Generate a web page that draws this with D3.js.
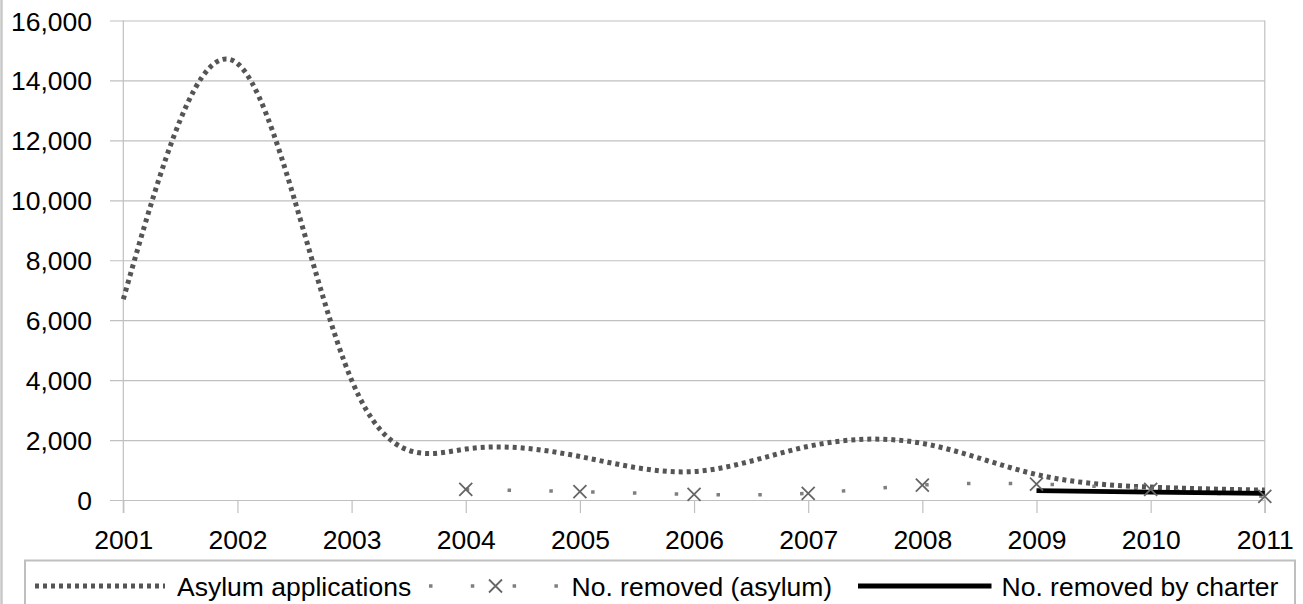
<!DOCTYPE html>
<html>
<head>
<meta charset="utf-8">
<script src="https://cdn.jsdelivr.net/npm/d3@7"></script>
<style>
  html, body { margin: 0; padding: 0; background: #fff; }
  svg { display: block; }
  text { font-family: "Liberation Sans", Arial, Helvetica, sans-serif; fill: #000; }
</style>
</head>
<body>
<svg id="chart" width="1303" height="604"></svg>
<script>
// ---- data ----
const years = [2001, 2002, 2003, 2004, 2005, 2006, 2007, 2008, 2009, 2010, 2011];
const asylumApplications = [6700, 14567, 4000, 1700, 1450, 950, 1790, 1890, 850, 430, 330];
const removedAsylum = [null, null, null, 356, 278, 189, 222, 500, 533, 356, 120];
const removedCharter = [null, null, null, null, null, null, null, null, 310, 265, 220];
const yTickValues = [0, 2000, 4000, 6000, 8000, 10000, 12000, 14000, 16000];
const seriesNames = ["Asylum applications", "No. removed (asylum)", "No. removed by charter"];

// ---- layout ----
const W = 1303, H = 604;
const plot = { left: 123.3, right: 1264.8, top: 20.5, bottom: 500 };
const svg = d3.select("#chart");

const x = d3.scaleLinear().domain([2001, 2011]).range([plot.left, plot.right]);
const y = d3.scaleLinear().domain([0, 16000]).range([plot.bottom, plot.top]);

const FONT = 26.5;
const GRID = "#c0c0c0";

// chart outer left border
svg.append("line").attr("x1", 1.5).attr("x2", 1.5).attr("y1", 0).attr("y2", H)
  .attr("stroke", "#c8c8c8").attr("stroke-width", 2.5);

// ---- y axis with gridlines ----
const yAxis = d3.axisLeft(y)
  .tickValues(yTickValues)
  .tickFormat(d3.format(","))
  .tickSize(plot.right - 110)
  .tickPadding(18);
const gy = svg.append("g").attr("transform", `translate(${plot.right},0)`).call(yAxis);
gy.select(".domain").remove();
gy.selectAll(".tick line").attr("stroke", GRID).attr("stroke-width", 1.2);
gy.selectAll(".tick text").attr("font-size", FONT).attr("font-family", null).attr("fill", "#000").attr("dy", "0.36em");

// ---- x axis ----
const xAxis = d3.axisBottom(x)
  .tickValues(years)
  .tickFormat(d3.format("d"))
  .tickSize(13)
  .tickPadding(17.5);
const gx = svg.append("g").attr("transform", `translate(0,${plot.bottom})`).call(xAxis);
gx.select(".domain").remove();
gx.selectAll(".tick line").attr("stroke", GRID).attr("stroke-width", 1.2);
gx.selectAll(".tick text").attr("font-size", FONT).attr("font-family", null).attr("fill", "#000");

// vertical axis line and right plot edge
[years[0], years[years.length - 1]].forEach(v => {
  svg.append("line")
    .attr("x1", x(v)).attr("x2", x(v))
    .attr("y1", y(16000)).attr("y2", plot.bottom + 13)
    .attr("stroke", GRID).attr("stroke-width", 1.2);
});

// ---- series (cubic spline smoothing) ----
const line = d3.line()
  .defined(d => d.v != null)
  .x(d => x(d.year))
  .y(d => y(d.v))
  .curve(d3.curveNatural);

const toPts = arr => years.map((yr, i) => ({ year: yr, v: arr[i] }));

svg.append("path")
  .datum(toPts(asylumApplications))
  .attr("d", line)
  .attr("fill", "none")
  .attr("stroke", "#555")
  .attr("stroke-width", 5)
  .attr("stroke-dasharray", "4,4");

svg.append("path")
  .datum(toPts(removedAsylum))
  .attr("d", line)
  .attr("fill", "none")
  .attr("stroke", "#7f7f7f")
  .attr("stroke-width", 3.5)
  .attr("stroke-dasharray", "3.5,38.3");

svg.append("path")
  .datum(toPts(removedCharter))
  .attr("d", line)
  .attr("fill", "none")
  .attr("stroke", "#000")
  .attr("stroke-width", 4.8);

const crossPath = "M-6.5,-6.5L6.5,6.5M-6.5,6.5L6.5,-6.5";
svg.append("g").selectAll("path")
  .data(toPts(removedAsylum).filter(d => d.v != null))
  .join("path")
  .attr("transform", d => `translate(${x(d.year)},${y(d.v)})`)
  .attr("d", crossPath)
  .attr("fill", "none")
  .attr("stroke", "#666")
  .attr("stroke-width", 1.8);

// ---- legend ----
const leg = svg.append("g");
leg.append("rect")
  .attr("x", 25).attr("y", 560.5).attr("width", 1270).attr("height", 80)
  .attr("fill", "#fff").attr("stroke", "#bfbfbf").attr("stroke-width", 2);

const legY = 586;
const textY = 595.5;
const legendItems = [
  { x1: 35, x2: 165, tx: 177, stroke: "#555", width: 5, dash: "4,4", marker: false },
  { x1: 429, x2: 562, tx: 571.5, stroke: "#7f7f7f", width: 3.5, dash: "3.5,38.3", marker: true },
  { x1: 858, x2: 991.5, tx: 1001.5, stroke: "#000", width: 4.8, dash: null, marker: false }
];
legendItems.forEach((it, i) => {
  const l = leg.append("line")
    .attr("x1", it.x1).attr("x2", it.x2).attr("y1", legY).attr("y2", legY)
    .attr("stroke", it.stroke).attr("stroke-width", it.width);
  if (it.dash) l.attr("stroke-dasharray", it.dash);
  if (it.marker) {
    leg.append("path")
      .attr("transform", `translate(${(it.x1 + it.x2) / 2},${legY})`)
      .attr("d", crossPath)
      .attr("fill", "none").attr("stroke", "#666").attr("stroke-width", 1.8);
  }
  leg.append("text")
    .attr("x", it.tx).attr("y", textY)
    .attr("font-size", FONT)
    .text(seriesNames[i]);
});
</script>
</body>
</html>
